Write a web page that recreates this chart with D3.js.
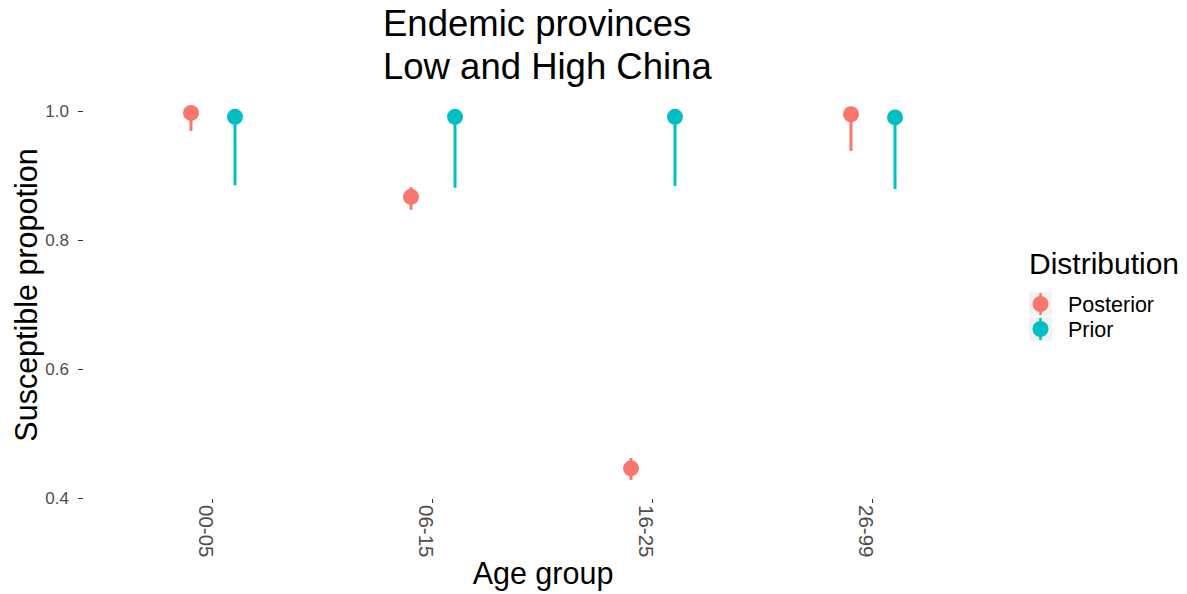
<!DOCTYPE html>
<html>
<head>
<meta charset="utf-8">
<script src="https://cdn.jsdelivr.net/npm/d3@7"></script>
<style>
  html, body { margin: 0; padding: 0; background: #ffffff; }
  svg { display: block; font-family: "Liberation Sans", Arial, sans-serif; }
</style>
</head>
<body>
<svg id="chart" width="1187" height="594"></svg>
<script>
// Age groups on the x axis
const ageGroups = ["00-05", "06-15", "16-25", "26-99"];
const seriesNames = ["Posterior", "Prior"];
const seriesColors = ["#F8766D", "#00BFC4"];

// Susceptible proportion: median and interval per age group
const posteriorMid  = [0.997, 0.867, 0.446, 0.995];
const posteriorLow  = [0.969, 0.847, 0.428, 0.938];
const posteriorHigh = [1.000, 0.882, 0.462, 1.000];

const priorMid  = [0.991, 0.991, 0.991, 0.990];
const priorLow  = [0.885, 0.881, 0.884, 0.879];
const priorHigh = [1.000, 1.000, 1.000, 1.000];

const yTicks = [0.4, 0.6, 0.8, 1.0];

const rows = [];
ageGroups.forEach((g, i) => {
  rows.push({ group: g, series: "Posterior", mid: posteriorMid[i], lo: posteriorLow[i], hi: posteriorHigh[i] });
  rows.push({ group: g, series: "Prior", mid: priorMid[i], lo: priorLow[i], hi: priorHigh[i] });
});

const svg = d3.select("#chart");
const panel = { left: 83, right: 1004, top: 92, bottom: 499 };

const x = d3.scalePoint().domain(ageGroups).range([212, 872]);
const dodge = d3.scalePoint().domain(seriesNames).range([-21, 23]);
const y = d3.scaleLinear().domain([0.4, 1.0]).range([498, 111]);
const color = d3.scaleOrdinal().domain(seriesNames).range(seriesColors);

// Point ranges
const g = svg.append("g");
const pr = g.selectAll("g.pr").data(rows).join("g")
  .attr("transform", d => `translate(${x(d.group) + dodge(d.series)},0)`);
pr.append("line")
  .attr("y1", d => y(d.lo)).attr("y2", d => y(d.hi))
  .attr("stroke", d => color(d.series)).attr("stroke-width", 3);
pr.append("circle")
  .attr("cy", d => y(d.mid)).attr("r", 8)
  .attr("fill", d => color(d.series));

// Y axis
const yAxis = svg.append("g")
  .attr("transform", `translate(${panel.left},0)`)
  .call(d3.axisLeft(y).tickValues(yTicks).tickFormat(d3.format(".1f")).tickSize(5).tickPadding(9));
yAxis.select(".domain").remove();
yAxis.selectAll(".tick line").attr("stroke", "#333333");
yAxis.selectAll(".tick text")
  .attr("fill", "#4d4d4d").style("font-size", "17px").attr("font-family", null);

// X axis with vertical labels
const xAxis = svg.append("g")
  .attr("transform", `translate(0,${panel.bottom})`)
  .call(d3.axisBottom(x).tickSize(4).tickSizeOuter(0));
xAxis.select(".domain").remove();
xAxis.selectAll(".tick line").attr("stroke", "#333333");
xAxis.selectAll(".tick text")
  .attr("fill", "#4d4d4d").style("font-size", "20.5px").attr("font-family", null)
  .attr("text-anchor", "start")
  .attr("x", 0).attr("y", 0).attr("dy", "0.72em")
  .attr("transform", "translate(1,6) rotate(90)");

// Titles
const title = svg.append("text")
  .attr("x", 383).attr("fill", "#000").style("font-size", "36.5px");
title.append("tspan").attr("x", 383).attr("y", 36).text("Endemic provinces");
title.append("tspan").attr("x", 383).attr("y", 79).text("Low and High China");

svg.append("text")
  .attr("x", 543).attr("y", 584).attr("text-anchor", "middle")
  .style("font-size", "30.5px").attr("fill", "#000")
  .text("Age group");

svg.append("text")
  .attr("transform", "translate(37,295) rotate(-90)")
  .attr("text-anchor", "middle")
  .style("font-size", "30.5px").attr("fill", "#000")
  .text("Susceptible propotion");

// Legend
const legend = svg.append("g").attr("transform", "translate(1029,0)");
legend.append("text")
  .attr("x", 0).attr("y", 274)
  .style("font-size", "30px").attr("fill", "#000")
  .text("Distribution");
const items = legend.selectAll("g.item").data(seriesNames).join("g")
  .attr("transform", (d, i) => `translate(0,${292 + i * 25})`);
items.append("rect")
  .attr("width", 23).attr("height", 24).attr("fill", "#f2f2f2");
items.append("line")
  .attr("x1", 11.5).attr("x2", 11.5).attr("y1", 1).attr("y2", 23)
  .attr("stroke", d => color(d)).attr("stroke-width", 2.5);
items.append("circle")
  .attr("cx", 11.5).attr("cy", 12).attr("r", 8)
  .attr("fill", d => color(d));
items.append("text")
  .attr("x", 39).attr("y", 12).attr("dy", "0.36em")
  .style("font-size", "21.5px").attr("fill", "#000")
  .text(d => d);
</script>
</body>
</html>
